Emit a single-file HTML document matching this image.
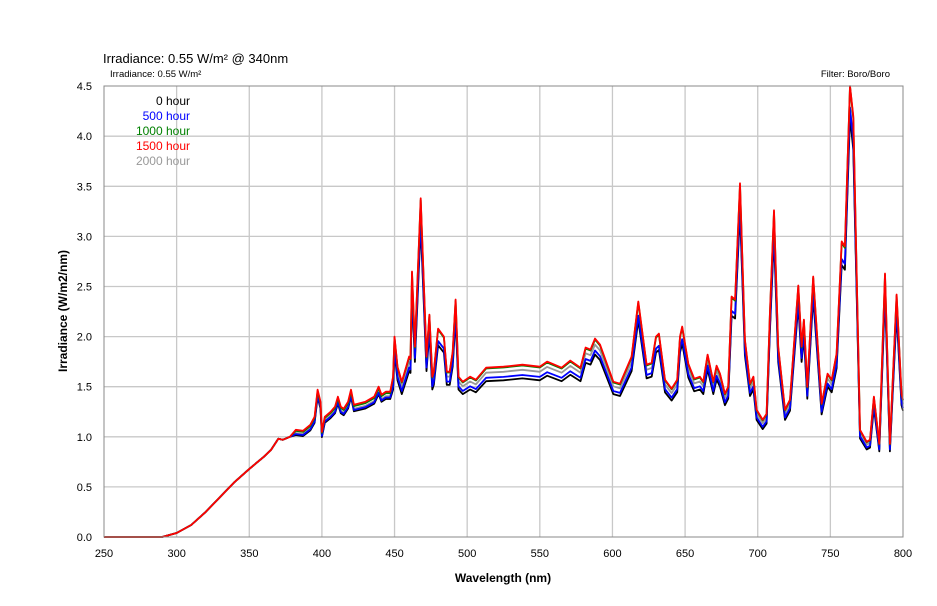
<!DOCTYPE html>
<html><head><meta charset="utf-8"><style>
body{margin:0;background:#fff;}
svg{display:block;font-family:"Liberation Sans",sans-serif;}
</style></head><body>
<svg id="s" width="937" height="606" viewBox="0 0 937 606" xmlns="http://www.w3.org/2000/svg">
<rect width="937" height="606" fill="#fff"/>
<g id="grid"></g>
<g id="lines" fill="none" stroke-width="1.8" stroke-linejoin="round"></g>
<rect x="104" y="86" width="799" height="451" fill="none" stroke="#888" stroke-width="1"/>
<g id="labels" font-size="11" fill="#000"></g>
<text x="103" y="63" font-size="13">Irradiance: 0.55 W/m² @ 340nm</text>
<text x="110" y="77" font-size="9.5">Irradiance: 0.55 W/m²</text>
<text x="890" y="77" font-size="9.5" text-anchor="end">Filter: Boro/Boro</text>
<text x="503" y="582" font-size="12" font-weight="bold" text-anchor="middle">Wavelength (nm)</text>
<text transform="translate(67,311) rotate(-90)" font-size="12" font-weight="bold" text-anchor="middle">Irradiance (W/m2/nm)</text>
<g font-size="12" text-anchor="end">
<text x="190" y="105" fill="#000">0 hour</text>
<text x="190" y="120" fill="#0000ff">500 hour</text>
<text x="190" y="135" fill="#008000">1000 hour</text>
<text x="190" y="150" fill="#ff0000">1500 hour</text>
<text x="190" y="165" fill="#999">2000 hour</text>
</g>
</svg>
<script>
var X=function(n){return 104+(n-250)*799/550;};
var Y=function(v){v=Math.min(v,4.5);return 537-v*100.2;};
var ns="http://www.w3.org/2000/svg";
var g=document.getElementById('grid'),lb=document.getElementById('labels');
function el(p,t,a,txt){var e=document.createElementNS(ns,t);for(var k in a)e.setAttribute(k,a[k]);if(txt)e.textContent=txt;p.appendChild(e);}
for(var n=300;n<800;n+=50)el(g,'line',{x1:X(n),x2:X(n),y1:86,y2:537,stroke:'#c8c8c8','stroke-width':1.3});
for(var v=0.5;v<4.5;v+=0.5)el(g,'line',{x1:104,x2:903,y1:Y(v),y2:Y(v),stroke:'#c8c8c8','stroke-width':1.3});
for(var n=250;n<=800;n+=50)el(lb,'text',{x:X(n),y:557,'text-anchor':'middle'},''+n);
for(var v=0;v<=4.5;v+=0.5)el(lb,'text',{x:92,y:Y(v)+4,'text-anchor':'end'},v.toFixed(1));
var d=[[250,0],[290,0],[300,0.04],[310,0.12],[320,0.25],[330,0.4],[340,0.55],[350,0.68],[360,0.8],[365,0.87],[370,0.98],[373,0.97],[378,1.0],[382,1.07],[387,1.06],[392,1.12],[395,1.2],[397,1.47],[399,1.35],[400,1.05],[402,1.2],[406,1.25],[409,1.3],[411,1.4],[413,1.3],[415,1.28],[418,1.35],[420,1.47],[422,1.32],[430,1.35],[436,1.4],[439,1.5],[441,1.42],[444,1.45],[447,1.45],[449,1.6],[450,2.0],[452,1.7],[455,1.55],[458,1.7],[460,1.8],[461,1.78],[462,2.65],[464,1.9],[468,3.38],[472,1.8],[474,2.22],[476,1.6],[477,1.65],[480,2.08],[484,2.0],[486,1.65],[488,1.65],[490,1.85],[492,2.37],[494,1.6],[497,1.55],[502,1.6],[506,1.57],[513,1.69],[525,1.7],[538,1.72],[550,1.7],[555,1.75],[565,1.69],[571,1.76],[578,1.69],[581.5,1.89],[584.9,1.87],[588,1.98],[591.4,1.92],[600.6,1.55],[605.2,1.53],[613.2,1.8],[617.8,2.35],[623.5,1.72],[627,1.74],[630,2.0],[632,2.03],[636.2,1.57],[640.7,1.48],[644.6,1.57],[646.5,2.0],[648,2.1],[652.2,1.73],[656.3,1.58],[660.2,1.6],[662.5,1.55],[665.5,1.82],[669.4,1.55],[671.7,1.71],[674,1.63],[677.4,1.43],[679.7,1.5],[682,2.4],[684.4,2.37],[687.8,3.53],[691.2,1.97],[694.7,1.53],[697,1.6],[699.2,1.27],[703.4,1.17],[706.1,1.23],[708.4,2.23],[711.2,3.26],[714.1,1.9],[718.8,1.27],[722.2,1.37],[727.9,2.51],[730.2,1.9],[731.8,2.17],[734.1,1.5],[738.2,2.6],[744,1.33],[748.1,1.63],[750.9,1.57],[754.3,1.83],[757.8,2.95],[760,2.9],[763.5,4.56],[765.8,4.2],[770.4,1.07],[775,0.95],[777.3,0.97],[780,1.4],[783.7,0.93],[787.6,2.63],[791,0.93],[795.6,2.42],[799,1.43],[800,1.37]];
function f(n,a,b){return n<380?1:(n<449?a:b);}
var S=[['#999',function(n,v){return v*f(n,0.97,v<2?0.97:0.94);}],
['#000',function(n,v){return v*f(n,0.95,0.92);}],
['#0000ff',function(n,v){return v*f(n,0.96,0.94);}],
['#008000',function(n,v){return v*f(n,0.99,0.995);}],
['#ff0000',function(n,v){return v;}]];
var L=document.getElementById('lines');
S.forEach(function(s){var p='';d.forEach(function(q,i){p+=(i?'L':'M')+X(q[0]).toFixed(1)+' '+Y(s[1](q[0],q[1])).toFixed(1);});el(L,'path',{d:p,stroke:s[0]});});
</script>
</body></html>
